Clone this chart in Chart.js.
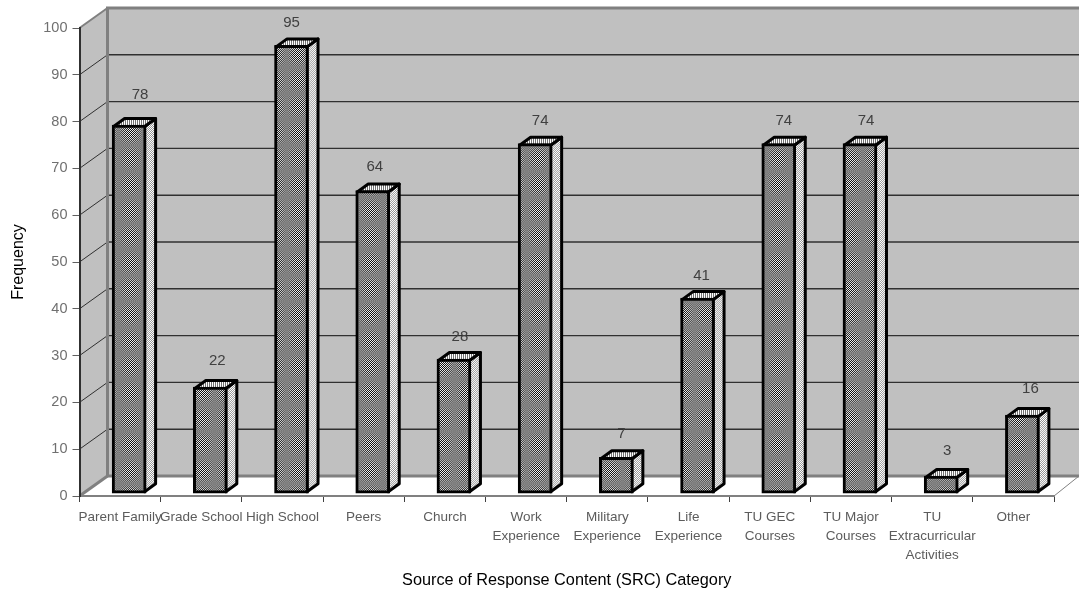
<!DOCTYPE html>
<html>
<head>
<meta charset="utf-8">
<style>html,body{margin:0;padding:0;background:#fff}canvas{display:block}</style>
<script src="https://cdn.jsdelivr.net/npm/chart.js@4"></script>
</head>
<body>
<canvas id="c" width="1079" height="590"></canvas>
<script>
const categories = [
  'Parent Family', 'Grade School', 'High School', 'Peers', 'Church',
  ['Work', 'Experience'], ['Military', 'Experience'], ['Life', 'Experience'],
  ['TU GEC', 'Courses'], ['TU Major', 'Courses'],
  ['TU', 'Extracurricular', 'Activities'], 'Other'
];
const frequency = [78, 22, 95, 64, 28, 74, 7, 41, 74, 74, 3, 16];
const yTicks = [0, 10, 20, 30, 40, 50, 60, 70, 80, 90, 100];

// Offsets of each value label from its bar top, as the chart places them by hand.
const labelDx = [11, 7, 0, 2, 6, 5, 5, 4, 5, 6, 6, 8];
const labelDy = [-30, -26, -23, -24, -22, -23, -23, -22, -23, -23, -25, -26];

const WALL = { dx: 28, dy: -20 };     // depth of the chart box
const BAR = { dx: 9, dy: -6, sx: 11, sy: 8, line: 3 }; // bar placement and bar depth

// Halftone fills: a screen whose contrast swells and fades in a regular grid of blotches.
function halftone(w, h, mid, amp, sign, contrast) {
  const tile = document.createElement('canvas');
  tile.width = w; tile.height = h;
  const t = tile.getContext('2d');
  const img = t.createImageData(w, h);
  for (let y = 0; y < h; y++) for (let x = 0; x < w; x++) {
    const v = mid + sign(x, y) * amp * contrast(x, y);
    const i = (y * w + x) * 4;
    img.data[i] = img.data[i + 1] = img.data[i + 2] = v;
    img.data[i + 3] = 255;
  }
  t.putImageData(img, 0, 0);
  return document.createElement('canvas').getContext('2d').createPattern(tile, 'repeat');
}
const checker = (x, y) => ((x + y) % 2 ? 1 : -1);
const blotches = (x, y) =>
  Math.pow(Math.abs(Math.cos(Math.PI * (x - 1) / 24) * Math.cos(Math.PI * (y - 8) / 26)), 0.8);
const frontFill = halftone(24, 26, 128, 118, checker, blotches);
const sideFill = halftone(24, 26, 205, 60, checker, (x, y) => 0.45 + 0.55 * blotches(x, y));
const topFill = halftone(4, 4, 185, 70, (x) => (x % 2 ? 1 : -1), () => 1);

const boxPlugin = {
  id: 'box',
  beforeDraw(chart) {
    const { ctx, chartArea: a, scales: { y } } = chart;
    const bx = a.left + WALL.dx, by = a.bottom + WALL.dy, ty = a.top + WALL.dy;
    const right = chart.width;
    ctx.save();
    ctx.fillStyle = '#c0c0c0';
    ctx.fillRect(bx, ty, right - bx, by - ty);
    ctx.beginPath();
    ctx.moveTo(a.left, a.top); ctx.lineTo(bx, ty); ctx.lineTo(bx, by); ctx.lineTo(a.left, a.bottom);
    ctx.closePath(); ctx.fill();

    // Gridlines run across the side wall and the back wall.
    yTicks.forEach(v => {
      if (v === 0 || v === 100) return;
      const p = y.getPixelForValue(v);
      ctx.strokeStyle = '#303030'; ctx.lineWidth = 1;
      ctx.beginPath(); ctx.moveTo(a.left, p); ctx.lineTo(bx, p + WALL.dy); ctx.stroke();
      ctx.lineWidth = 1.4;
      ctx.beginPath(); ctx.moveTo(bx, p + WALL.dy); ctx.lineTo(right, p + WALL.dy); ctx.stroke();
    });

    // Box edges.
    ctx.strokeStyle = '#808080';
    ctx.lineWidth = 3;
    ctx.beginPath(); ctx.moveTo(right, ty); ctx.lineTo(bx, ty); ctx.lineTo(bx, by); ctx.lineTo(right, by); ctx.stroke();
    ctx.lineWidth = 2;
    ctx.beginPath(); ctx.moveTo(a.left, a.top); ctx.lineTo(bx, ty); ctx.stroke();
    ctx.lineWidth = 3;
    ctx.beginPath(); ctx.moveTo(a.left, a.bottom); ctx.lineTo(bx, by); ctx.stroke();
    ctx.lineWidth = 1;
    ctx.beginPath(); ctx.moveTo(a.right, a.bottom); ctx.lineTo(right, by); ctx.stroke();
    ctx.restore();
  },
  beforeDatasetDraw(chart) {
    const { ctx } = chart;
    ctx.save();
    ctx.translate(BAR.dx, BAR.dy);
    ctx.lineWidth = BAR.line;
    ctx.lineJoin = 'round';
    ctx.strokeStyle = '#000';
    chart.getDatasetMeta(0).data.forEach(b => {
      const p = b.getProps(['x', 'y', 'base', 'width'], true);
      const r = p.x + p.width / 2 - BAR.line / 2;
      const l = p.x - p.width / 2 + BAR.line / 2;
      const t = p.y + BAR.line / 2;
      const n = p.base - BAR.line / 2;
      ctx.fillStyle = sideFill;
      ctx.beginPath();
      ctx.moveTo(r, t); ctx.lineTo(r + BAR.sx, t - BAR.sy);
      ctx.lineTo(r + BAR.sx, n - BAR.sy); ctx.lineTo(r, n);
      ctx.closePath(); ctx.fill(); ctx.stroke();
      ctx.fillStyle = topFill;
      ctx.beginPath();
      ctx.moveTo(l, t); ctx.lineTo(l + BAR.sx, t - BAR.sy);
      ctx.lineTo(r + BAR.sx, t - BAR.sy); ctx.lineTo(r, t);
      ctx.closePath(); ctx.fill(); ctx.stroke();
    });
    // The front faces that follow are drawn by the bar elements under this same shift.
  },
  afterDatasetDraw(chart) {
    chart.ctx.restore();
  },
  afterDraw(chart) {
    const { ctx } = chart;
    ctx.save();
    ctx.font = '15px "Liberation Sans"';
    ctx.fillStyle = '#404040';
    ctx.textAlign = 'center';
    ctx.textBaseline = 'middle';
    chart.getDatasetMeta(0).data.forEach((b, i) => {
      ctx.fillText(String(frequency[i]), b.x + BAR.dx + labelDx[i], b.y + BAR.dy + labelDy[i]);
    });
    ctx.restore();
  }
};

new Chart(document.getElementById('c'), {
  type: 'bar',
  data: {
    labels: categories,
    datasets: [{
      data: frequency,
      base: -0.7,
      barThickness: 34,
      backgroundColor: frontFill,
      borderColor: '#000',
      borderWidth: 3,
      borderSkipped: false,
      clip: false
    }]
  },
  plugins: [boxPlugin],
  options: {
    responsive: false,
    animation: false,
    events: [],
    layout: { padding: { left: 0, right: 25, top: 28, bottom: 0 } },
    plugins: { legend: { display: false }, tooltip: { enabled: false } },
    scales: {
      x: {
        afterFit: s => { s.height = 94; },
        grid: { drawOnChartArea: false, tickLength: 6, tickColor: '#404040', tickWidth: 1 },
        border: { color: '#808080', width: 2 },
        ticks: {
          autoSkip: false, maxRotation: 0, minRotation: 0, padding: 6,
          color: '#5c5c5c',
          font: { family: '"Liberation Sans"', size: 13.5, lineHeight: 1.41 }
        },
        title: {
          display: true,
          text: 'Source of Response Content (SRC) Category',
          color: '#000',
          font: { family: '"Liberation Sans"', size: 16.3 },
          align: 'center',
          padding: { top: 0, bottom: 0 }
        }
      },
      y: {
        min: 0, max: 100,
        afterFit: s => { s.width = 79.5; },
        afterBuildTicks: s => { s.ticks = yTicks.map(value => ({ value })); },
        grid: { drawOnChartArea: false, tickLength: 7, tickColor: '#606060', tickWidth: 1 },
        border: { color: '#303030', width: 2 },
        ticks: {
          padding: 5,
          color: '#707070',
          font: { family: '"Liberation Sans"', size: 14.5 }
        },
        title: {
          display: true,
          text: 'Frequency',
          color: '#000',
          font: { family: '"Liberation Sans"', size: 16 },
          padding: { top: 9, bottom: 0 }
        }
      }
    }
  }
});
</script>
</body>
</html>
